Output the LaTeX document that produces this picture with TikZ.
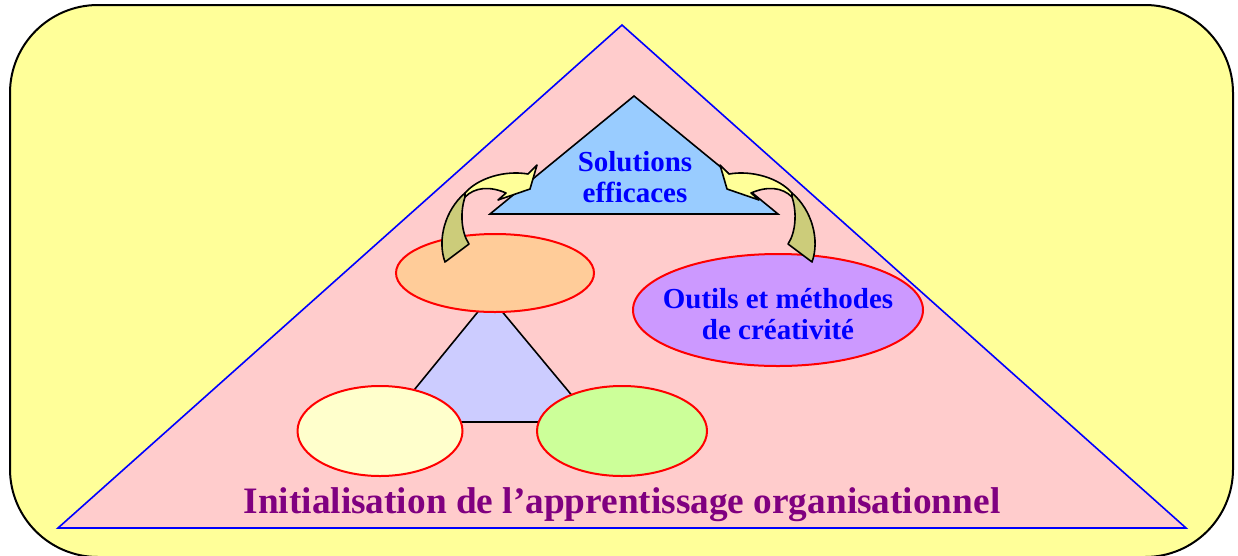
\documentclass[tikz,border=0pt]{standalone}
\usepackage{fontspec}
\setmainfont{Liberation Serif}
\usetikzlibrary{shapes.geometric}
\definecolor{fond}{HTML}{FFFF99}
\definecolor{rose}{HTML}{FFCCCC}
\definecolor{ciel}{HTML}{99CCFF}
\definecolor{peche}{HTML}{FFCC99}
\definecolor{mauve}{HTML}{CC99FF}
\definecolor{creme}{HTML}{FFFFCC}
\definecolor{pomme}{HTML}{CCFF99}
\definecolor{lavande}{HTML}{CCCCFF}
\definecolor{olive}{HTML}{CCCC7A}
\definecolor{prune}{HTML}{800080}
\tikzset{
  bulle/.style={ellipse, draw=red, line width=2pt, inner sep=0pt},
  texte/.style={font=\bfseries\fontsize{29}{31}\selectfont, text=blue, align=center},
  fleche/.style={draw=black, line width=1.6pt, line join=round}
}

\begin{document}
\begin{tikzpicture}[x=1pt,y=-1pt]
\useasboundingbox (0,0) rectangle (1238,555);
\draw[fill=fond, line width=2pt, rounded corners=88pt] (10,5) rectangle (1233,557);
\draw[fill=rose, draw=blue, line width=1.6pt] (622,25) -- (1186,528) -- (58,528) -- cycle;
\draw[fill=lavande, line width=1.6pt] (490,297) -- (594,422) -- (388,422) -- cycle;
\node[bulle, fill=peche, minimum width=198pt, minimum height=78pt] (haut) at (495,273) {};
\node[bulle, fill=mauve, minimum width=290pt, minimum height=112pt] (outils) at (778,310) {};
\node[bulle, fill=creme, minimum width=165pt, minimum height=90pt] (gauche) at (380,431) {};
\node[bulle, fill=pomme, minimum width=170pt, minimum height=90pt] (droite) at (622,431) {};
\draw[fill=ciel, line width=1.6pt] (634,96) -- (778,214) -- (490,214) -- cycle;
\foreach \s/\d in {1/0,-1/1257}{
  \begin{scope}[xshift=\d pt, xscale=\s]
  \draw[fleche, fill=olive] (445,262) .. controls (437,240) and (445,210) .. (465,193)
    -- (465,197) .. controls (460,212) and (461,232) .. (469,244) -- cycle;
  \draw[fleche, fill=fond] (465,193) .. controls (478,178) and (505,170) .. (528,174)
    -- (537,165) -- (530,189) -- (498,200) -- (506,193)
    .. controls (490,186) and (475,187) .. (465,197) -- cycle;
  \end{scope}
}
\node[texte] (solutions) at (635,177) {Solutions\\efficaces};
\node[texte] (creativite) at (778,314) {Outils et méthodes\\de créativité};
\node[font=\bfseries\fontsize{37.3}{40}\selectfont, text=prune, anchor=base] (titre) at (622,513) {Initialisation de l’apprentissage organisationnel};
\end{tikzpicture}
\end{document}
